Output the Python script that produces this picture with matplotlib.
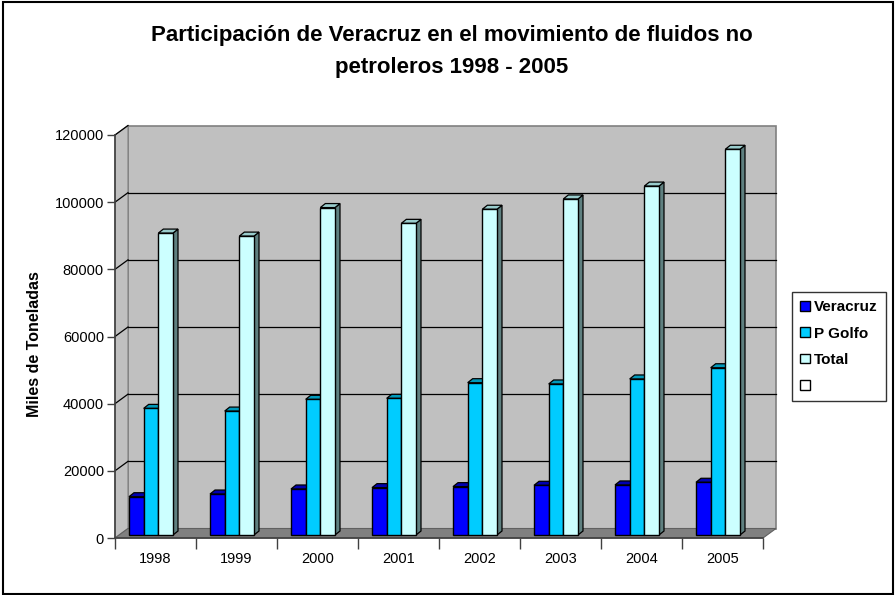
import matplotlib
matplotlib.use('Agg')
import matplotlib.pyplot as plt
from matplotlib.patches import Polygon, Rectangle, Patch

plt.rcParams['font.family'] = ['Liberation Sans', 'DejaVu Sans']

# Data (miles de toneladas)
years = ['1998', '1999', '2000', '2001', '2002', '2003', '2004', '2005']
veracruz = [11400, 12200, 13700, 14100, 14400, 14800, 14900, 15700]
p_golfo = [37700, 36900, 40400, 40700, 45350, 44970, 46460, 49800]
total = [89900, 89000, 97500, 92800, 97000, 100060, 103900, 114860]

series_names = ['Veracruz', 'P Golfo', 'Total', '']
front_colors = ['#0000FF', '#00CCFF', '#CCFFFF', '#FFFFFF']
top_colors = ['#0000B0', '#0099BB', '#99CCCC']
side_colors = ['#000080', '#007799', '#5F8080']

W, H = 896, 595
fig = plt.figure(figsize=(W / 100, H / 100), dpi=100)

# front frame of the 3D plot area, in pixels
x0, x1 = 115, 763
y0, y1 = 538, 135
ax = fig.add_axes([x0 / W, 1 - y0 / H, (x1 - x0) / W, (y0 - y1) / H])
ymax = 120000
ax.set_xlim(0, len(years))
ax.set_ylim(0, ymax)
for s in ax.spines.values():
    s.set_visible(False)
ax.patch.set_visible(False)

# pixel -> data conversion
px_x = len(years) / (x1 - x0)
px_y = ymax / (y0 - y1)
wall_dx, wall_dy = 13 * px_x, 9.5 * px_y
bar_dx, bar_dy = 5 * px_x, 4 * px_y
base = 3 * px_y

n = len(years)
# floor
ax.add_patch(Polygon([(0, 0), (n, 0), (n + wall_dx, wall_dy), (wall_dx, wall_dy)],
                     closed=True, facecolor='#808080', edgecolor='#606060',
                     lw=0.8, zorder=1, clip_on=False))
# left wall
ax.add_patch(Polygon([(0, 0), (0, ymax), (wall_dx, ymax + wall_dy), (wall_dx, wall_dy)],
                     closed=True, facecolor='#C0C0C0', edgecolor='#808080',
                     lw=0.8, zorder=0.5, clip_on=False))
# back wall
ax.add_patch(Rectangle((wall_dx, wall_dy), n, ymax, facecolor='#C0C0C0',
                       edgecolor='#808080', lw=1.2, zorder=0.4, clip_on=False))
# gridlines on back and left walls
for v in range(20000, ymax + 1, 20000):
    if v < ymax:
        ax.plot([wall_dx, n + wall_dx], [v + wall_dy, v + wall_dy], color='black',
                lw=0.9, zorder=0.6, clip_on=False)
    ax.plot([0, wall_dx], [v, v + wall_dy], color='black', lw=0.9,
            zorder=0.6, clip_on=False)

# bars
bw = 0.181
off = 0.173
data = [veracruz, p_golfo, total]
for i in range(n):
    for k, vals in enumerate(data):
        xl = i + off + k * bw
        h = vals[i]
        z = 2 + i * 0.01 + k * 0.001
        top = base + h
        ax.add_patch(Polygon([(xl + bw, base), (xl + bw + bar_dx, base + bar_dy),
                              (xl + bw + bar_dx, top + bar_dy), (xl + bw, top)],
                             closed=True, facecolor=side_colors[k], edgecolor='black',
                             lw=0.9, zorder=z, clip_on=False))
        ax.add_patch(Polygon([(xl, top), (xl + bw, top), (xl + bw + bar_dx, top + bar_dy),
                              (xl + bar_dx, top + bar_dy)],
                             closed=True, facecolor=top_colors[k], edgecolor='black',
                             lw=0.9, zorder=z, clip_on=False))
        ax.bar(xl, h, width=bw, bottom=base, align='edge', color=front_colors[k],
               edgecolor='black', lw=1.0, zorder=z + 0.0005, clip_on=False)

# front axes lines
ax.plot([0, 0], [0, ymax], color='#404040', lw=1.2, zorder=3, clip_on=False)
ax.plot([0, n], [0, 0], color='#404040', lw=1.2, zorder=3, clip_on=False)

ax.set_yticks(range(0, ymax + 1, 20000))
ax.set_yticklabels([str(v) for v in range(0, ymax + 1, 20000)], fontsize=10.5)
ax.set_xticks(range(0, n + 1))
ax.set_xticklabels([])
ax.set_xticks([i + 0.5 for i in range(n)], minor=True)
ax.set_xticklabels(years, minor=True, fontsize=10.5)
ax.tick_params(axis='x', which='major', length=8, width=1, color='#404040', direction='out')
ax.tick_params(axis='x', which='minor', length=0, pad=10)
ax.tick_params(axis='y', length=6, width=1, color='#404040', pad=2)

ax.set_ylabel('Miles de Toneladas', fontsize=11.5, fontweight='bold')
ax.yaxis.set_label_coords(-0.112, 0.48)

fig.text(452 / W, 1 - 35 / H, 'Participación de Veracruz en el movimiento de fluidos no',
         ha='center', va='center', fontsize=16, fontweight='bold')
fig.text(452 / W, 1 - 67 / H, 'petroleros 1998 - 2005',
         ha='center', va='center', fontsize=16, fontweight='bold')

handles = [Patch(facecolor=c, edgecolor='black', lw=1) for c in front_colors]
leg = fig.legend(handles, series_names, loc='upper left',
                 bbox_to_anchor=(792 / W, 1 - 292 / H), frameon=True, fancybox=False,
                 edgecolor='black', fontsize=11, handlelength=0.6, handleheight=0.6,
                 handletextpad=0.3, labelspacing=0.8, borderpad=0.55, borderaxespad=0)
leg.get_frame().set_linewidth(1)
for t in leg.get_texts():
    t.set_fontweight('bold')

# outer chart border
fig.add_artist(Rectangle((3 / W, 1 / H), (893 - 3) / W, (594 - 2) / H,
                         transform=fig.transFigure, fill=False, edgecolor='black', lw=1.5))

fig.savefig('out.png', dpi=100, facecolor='white')
